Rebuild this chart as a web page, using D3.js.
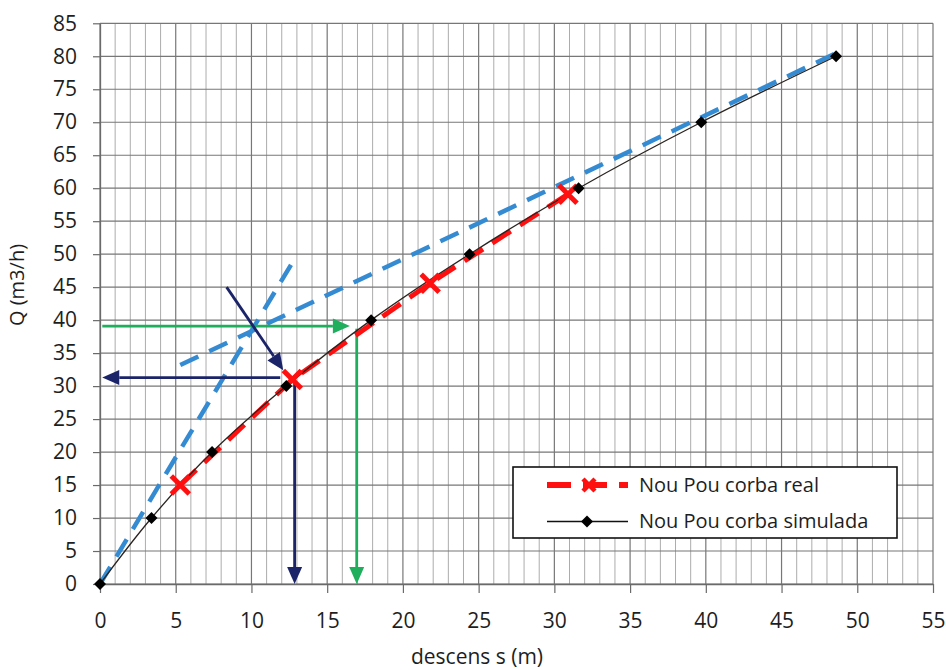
<!DOCTYPE html>
<html>
<head>
<meta charset="utf-8">
<script src="https://cdn.jsdelivr.net/npm/d3@7"></script>
<style>
  body { margin: 0; background: #fff; }
  svg { display: block; }
  text { font-family: "Open Sans", sans-serif; fill: #1e1e1e; }
</style>
</head>
<body>
<svg id="chart" width="946" height="670"></svg>
<script>
// Pumping test: discharge Q (m3/h) against drawdown s (m)
const simS = [0, 3.4, 7.4, 12.3, 17.9, 24.4, 31.6, 39.7, 48.6];
const simQ = [0, 10, 20, 30, 40, 50, 60, 70, 80];
const realS = [5.3, 12.7, 21.8, 30.9];
const realQ = [15, 31, 45.6, 59.1];

// construction lines (tangents), as [s, Q] end points
const tangentSteep = [[0, 0], [12.9, 49.5]];
const tangentFlat = [[5.3, 33.2], [49.0, 80.9]];

// reading arrows: [s, Q] start -> [s, Q] tip
const navyArrows = [
  [[8.36, 45.0], [12.1, 32.4]],
  [[11.9, 31.3], [0.15, 31.3]],
  [[12.85, 31.0], [12.85, 0]]
];
const greenArrows = [
  [[0.15, 39.1], [16.5, 39.1]],
  [[16.95, 38.7], [16.95, 0]]
];

const xTicks = d3.range(0, 56, 5);
const yTicks = d3.range(0, 86, 5);
const xMinor = d3.range(0, 56, 1);

const legendLabels = ["Nou Pou corba real", "Nou Pou corba simulada"];
const xTitle = "descens s (m)";
const yTitle = "Q (m3/h)";

const svg = d3.select("#chart");
const plotLeft = 100, plotRight = 933, plotTop = 23.3, plotBottom = 584;
const x = d3.scaleLinear().domain([0, 55]).range([plotLeft, plotRight]);
const y = d3.scaleLinear().domain([0, 85]).range([plotBottom, plotTop]);

// grid
const grid = svg.append("g");
grid.selectAll("line.minor").data(xMinor.filter(d => d % 5 !== 0)).join("line")
  .attr("class", "minor")
  .attr("x1", d => x(d)).attr("x2", d => x(d)).attr("y1", plotTop).attr("y2", plotBottom)
  .attr("stroke", "#acacac").attr("stroke-width", 1);
grid.selectAll("line.vmaj").data(xTicks).join("line")
  .attr("class", "vmaj")
  .attr("x1", d => x(d)).attr("x2", d => x(d)).attr("y1", plotTop).attr("y2", plotBottom)
  .attr("stroke", "#777").attr("stroke-width", 1.2);
grid.selectAll("line.hmaj").data(yTicks).join("line")
  .attr("class", "hmaj")
  .attr("x1", plotLeft).attr("x2", plotRight).attr("y1", d => y(d)).attr("y2", d => y(d))
  .attr("stroke", "#777").attr("stroke-width", 1.2);

// axes
const gx = svg.append("g").attr("transform", `translate(0,${plotBottom})`)
  .call(d3.axisBottom(x).tickValues(xTicks).tickSizeInner(9).tickSizeOuter(0).tickPadding(20));
const gy = svg.append("g").attr("transform", `translate(${plotLeft},0)`)
  .call(d3.axisLeft(y).tickValues(yTicks).tickSizeInner(7).tickSizeOuter(0).tickPadding(16));
[gx, gy].forEach(g => {
  g.select(".domain").attr("stroke", "#6a6a6a").attr("stroke-width", 1.3);
  g.selectAll(".tick line").attr("stroke", "#6a6a6a").attr("stroke-width", 1.2);
  g.selectAll(".tick text").attr("font-size", 21).attr("font-family", "Open Sans, sans-serif").attr("fill", "#1e1e1e");
});

svg.append("text").attr("x", 477).attr("y", 664).attr("text-anchor", "middle")
  .attr("font-size", 21).text(xTitle);
svg.append("text").attr("transform", "translate(24,285) rotate(-90)").attr("text-anchor", "middle")
  .attr("font-size", 20).text(yTitle);

// tangent construction lines
const straight = d3.line().x(d => x(d[0])).y(d => y(d[1]));
[tangentSteep, tangentFlat].forEach(seg => {
  svg.append("path").attr("d", straight(seg)).attr("fill", "none")
    .attr("stroke", "#358bd2").attr("stroke-width", 4.5)
    .attr("stroke-dasharray", "20,12");
});

// arrows
function arrow(seg, color) {
  const [x0, y0] = [x(seg[0][0]), y(seg[0][1])];
  const [x1, y1] = [x(seg[1][0]), y(seg[1][1])];
  const len = Math.hypot(x1 - x0, y1 - y0);
  const ux = (x1 - x0) / len, uy = (y1 - y0) / len;
  const headL = 17, headW = 7.5;
  const bx = x1 - ux * headL, by = y1 - uy * headL;
  svg.append("line").attr("x1", x0).attr("y1", y0).attr("x2", bx).attr("y2", by)
    .attr("stroke", color).attr("stroke-width", 2.8);
  svg.append("path")
    .attr("d", `M${x1},${y1}L${bx - uy * headW},${by + ux * headW}L${bx + uy * headW},${by - ux * headW}Z`)
    .attr("fill", color);
}
greenArrows.forEach(s => arrow(s, "#1fae5c"));
navyArrows.forEach(s => arrow(s, "#1b2468"));

// observed curve (red dashed with crosses)
const realPts = realS.map((s, i) => [s, realQ[i]]);
svg.append("path").attr("d", straight(realPts)).attr("fill", "none")
  .attr("stroke", "#ff1010").attr("stroke-width", 5).attr("stroke-dasharray", "22,11");

// simulated curve (smooth black line with diamonds)
const simPts = simS.map((s, i) => [s, simQ[i]]);
const smooth = d3.line().x(d => x(d[0])).y(d => y(d[1])).curve(d3.curveCatmullRom.alpha(0));
svg.append("path").attr("d", smooth(simPts)).attr("fill", "none")
  .attr("stroke", "#2a2420").attr("stroke-width", 1.3);

function cross(g, cx, cy, r, w) {
  g.append("path").attr("d", `M${cx - r},${cy - r}L${cx + r},${cy + r}M${cx - r},${cy + r}L${cx + r},${cy - r}`)
    .attr("stroke", "#ff1010").attr("stroke-width", w).attr("fill", "none");
}
realPts.forEach(d => cross(svg, x(d[0]), y(d[1]), 9, 5));

const diamond = d3.symbol(d3.symbolSquare, 72);
svg.selectAll("path.sim").data(simPts).join("path")
  .attr("class", "sim")
  .attr("d", diamond)
  .attr("transform", d => `translate(${x(d[0])},${y(d[1])}) rotate(45)`)
  .attr("fill", "#000");

// legend
const lg = svg.append("g");
lg.append("rect").attr("x", 513).attr("y", 467).attr("width", 384).attr("height", 71)
  .attr("fill", "#fff").attr("stroke", "#111").attr("stroke-width", 1.6);
lg.append("line").attr("x1", 547).attr("x2", 628).attr("y1", 485).attr("y2", 485)
  .attr("stroke", "#ff1010").attr("stroke-width", 6).attr("stroke-dasharray", "24,12");
cross(lg, 589, 485, 6, 4.5);
lg.append("line").attr("x1", 547).attr("x2", 628).attr("y1", 521.5).attr("y2", 521.5)
  .attr("stroke", "#111").attr("stroke-width", 1.5);
lg.append("path").attr("d", diamond).attr("transform", "translate(587,521.5) rotate(45)").attr("fill", "#000");
lg.append("text").attr("x", 639).attr("y", 492).attr("font-size", 20).text(legendLabels[0]);
lg.append("text").attr("x", 639).attr("y", 528).attr("font-size", 20).text(legendLabels[1]);
</script>
</body>
</html>
